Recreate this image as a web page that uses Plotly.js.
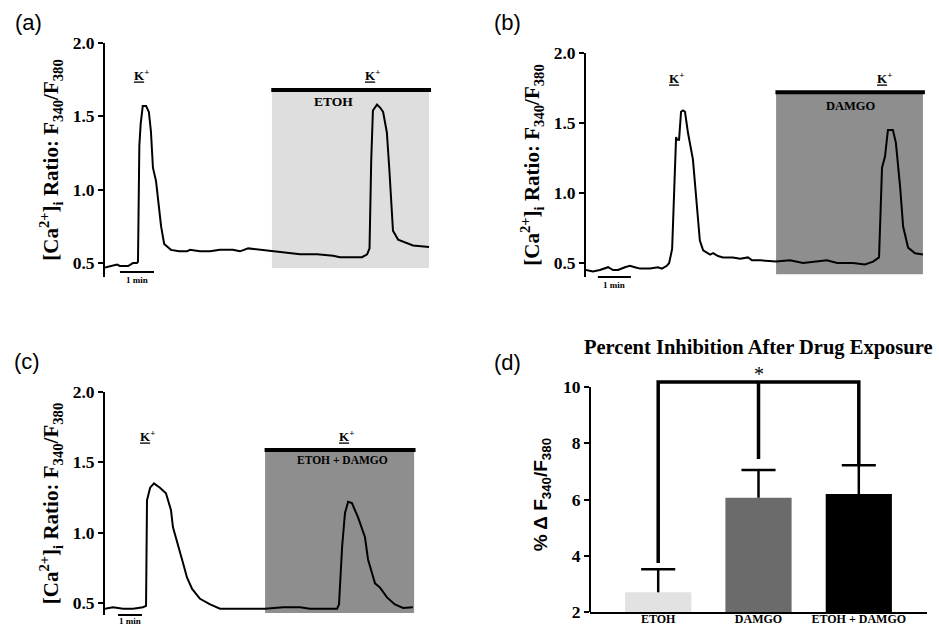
<!DOCTYPE html>
<html>
<head>
<meta charset="utf-8">
<script src="https://cdn.plot.ly/plotly-3.0.1.min.js"></script>
<style>html,body{margin:0;padding:0;background:#fff;}#chart{width:939px;height:625px;}</style>
</head>
<body>
<div id="chart"></div>
<script>
// ---------- Panel (a): ETOH ----------
const tA = [0.00,0.15,0.35,0.44,0.68,0.82,0.94,0.97,1.01,1.05,1.11,1.21,1.29,1.35,1.41,1.50,1.56,1.65,1.74,1.94,2.18,2.41,2.50,2.79,3.09,3.38,3.76,3.97,4.21,4.56,4.91,5.24,5.74,6.24,6.71,6.91,7.21,7.56,7.71,7.78,7.83,7.88,8.00,8.09,8.18,8.29,8.36,8.41,8.47,8.62,8.82,9.06,9.53];
const rA = [0.47,0.48,0.49,0.48,0.48,0.50,0.50,0.51,1.30,1.45,1.57,1.57,1.53,1.40,1.15,1.06,0.93,0.75,0.63,0.59,0.58,0.58,0.59,0.58,0.58,0.59,0.59,0.58,0.60,0.59,0.58,0.57,0.56,0.56,0.55,0.54,0.54,0.54,0.56,0.60,1.20,1.54,1.58,1.56,1.53,1.39,1.15,0.93,0.72,0.66,0.64,0.62,0.61];
// ---------- Panel (b): DAMGO ----------
const tB = [0.00,0.21,0.42,0.67,0.82,0.97,1.18,1.33,1.48,1.64,1.94,2.18,2.30,2.45,2.52,2.61,2.67,2.73,2.76,2.82,2.88,2.94,3.00,3.09,3.24,3.36,3.45,3.55,3.76,3.85,4.00,4.15,4.45,4.67,4.91,5.03,5.27,5.76,6.18,6.58,7.00,7.30,7.61,8.09,8.45,8.70,8.88,8.97,9.06,9.15,9.30,9.39,9.52,9.61,9.76,9.97,10.21];
const rB = [0.45,0.44,0.45,0.47,0.45,0.45,0.47,0.48,0.47,0.46,0.46,0.47,0.46,0.48,0.50,0.60,1.00,1.40,1.38,1.38,1.58,1.59,1.58,1.43,1.24,0.90,0.66,0.59,0.56,0.57,0.55,0.54,0.54,0.53,0.54,0.52,0.52,0.51,0.52,0.50,0.51,0.52,0.50,0.50,0.49,0.51,0.54,1.18,1.26,1.45,1.45,1.36,1.04,0.76,0.61,0.57,0.56];
// ---------- Panel (c): ETOH + DAMGO ----------
const tC = [0.00,0.33,0.75,1.17,1.58,1.71,1.75,1.88,2.04,2.29,2.54,2.63,2.75,2.83,3.00,3.21,3.42,3.63,3.96,4.38,4.79,5.33,6.04,6.67,7.42,8.13,8.54,9.25,9.67,9.75,9.88,10.00,10.13,10.29,10.54,10.83,10.96,11.13,11.25,11.46,11.75,12.08,12.42,12.83];
const rC = [0.46,0.47,0.46,0.46,0.47,0.48,1.23,1.32,1.35,1.32,1.28,1.23,1.16,1.04,0.93,0.81,0.68,0.60,0.53,0.49,0.46,0.46,0.465,0.46,0.47,0.47,0.46,0.46,0.46,0.49,0.90,1.14,1.22,1.21,1.11,0.97,0.81,0.71,0.64,0.61,0.54,0.49,0.465,0.47];
// drug application windows (min) and K+ pulse times (min)
const drugA = [4.91, 9.53], drugB = [5.76, 10.21], drugC = [6.67, 12.88];
const kA = [1.06, 7.88], kB = [2.73, 9.06], kC = [1.75, 10.08];
const drugNames = ['ETOH', 'DAMGO', 'ETOH + DAMGO'];
const ratioTicks = [0.5, 1.0, 1.5, 2.0];
const ratioTickText = ['0.5', '1.0', '1.5', '2.0'];
// ---------- Panel (d): percent inhibition ----------
const cats = ['ETOH', 'DAMGO', 'ETOH + DAMGO'];
const meanInhib = [2.70, 6.06, 6.20];
const semInhib = [0.82, 0.99, 1.02];
const barColors = ['#e2e2e2', '#6b6b6b', '#000000'];
const pctTicks = [2, 4, 6, 8, 10];
// significance bracket: category index and value of each vertex
const bracketX = [0, 0, 2, 2, null, 1, 1];
const bracketY = [3.74, 10.18, 10.18, 7.23, null, 10.18, 7.44];

const W = 939, H = 625;
const px = v => v / W, py = v => 1 - v / H;
const SERIF = 'Liberation Serif, Times New Roman, serif';
const SANS = 'Liberation Sans, Arial, sans-serif';
const yTitle = '[Ca<sup>2+</sup>]<sub>i</sub> Ratio: F<sub>340</sub>/F<sub>380</sub>';

function ratioAxis(dom, rng, standoff) {
  return {
    domain: dom, range: rng, showline: true, linewidth: 2, linecolor: '#000',
    ticks: 'outside', ticklen: 5, tickwidth: 2, tickcolor: '#000',
    tickvals: ratioTicks, ticktext: ratioTickText,
    tickfont: {family: SERIF, size: 17.5, color: '#000', weight: 'bold'},
    showgrid: false, zeroline: false, fixedrange: true,
    title: {text: yTitle, font: {family: SERIF, size: 21, color: '#000', weight: 'bold'}, standoff: standoff}
  };
}
function timeAxis(dom, rng, anchor) {
  return {domain: dom, range: rng, visible: false, anchor: anchor, fixedrange: true};
}

// one-sided (upper) error bars: stem + cap, built from the mean / SEM arrays
const capHalf = 0.17;
const errX = [], errY = [];
cats.forEach((c, i) => {
  const top = meanInhib[i] + semInhib[i];
  errX.push(i, i, null, i - capHalf, i + capHalf, null);
  errY.push(meanInhib[i], top, null, top, top, null);
});
const catIdx = cats.map((c, i) => i);

const lineStyle = {color: '#000', width: 2};
const data = [
  {x: tA, y: rA, xaxis: 'x', yaxis: 'y', type: 'scatter', mode: 'lines', line: lineStyle},
  {x: tB, y: rB, xaxis: 'x2', yaxis: 'y2', type: 'scatter', mode: 'lines', line: lineStyle},
  {x: tC, y: rC, xaxis: 'x3', yaxis: 'y3', type: 'scatter', mode: 'lines', line: lineStyle},
  {x: catIdx, y: meanInhib, xaxis: 'x4', yaxis: 'y4', type: 'bar', width: 0.66,
   marker: {color: barColors, line: {width: 0}}},
  {x: errX, y: errY, xaxis: 'x4', yaxis: 'y4', type: 'scatter', mode: 'lines', line: {color: '#000', width: 2.5}, connectgaps: false},
  {x: bracketX, y: bracketY, xaxis: 'x4', yaxis: 'y4', type: 'scatter', mode: 'lines', line: {color: '#000', width: 3.5}, connectgaps: false}
];

const shapes = [];
const annotations = [];
function tracePanel(xr, yr, drug, shadeY, barY, color, k, kY, name, nameY, nameSize, scale, scaleY, textShift) {
  shapes.push({type: 'rect', xref: xr, yref: yr, x0: drug[0], x1: drug[1], y0: shadeY, y1: barY, fillcolor: color, line: {width: 0}, layer: 'below'});
  shapes.push({type: 'line', xref: xr, yref: yr, x0: drug[0] - 0.02, x1: drug[1] + 0.06, y0: barY, y1: barY, line: {color: '#000', width: 4}});
  shapes.push({type: 'line', xref: xr, yref: yr + ' domain', x0: scale[0], x1: scale[1], y0: scaleY, y1: scaleY, line: {color: '#000', width: 2}});
  annotations.push({xref: xr, yref: yr + ' domain', x: (scale[0] + scale[1]) / 2, y: scaleY, xanchor: 'center', yanchor: 'top', yshift: textShift, showarrow: false,
    text: '1 min', font: {family: SERIF, size: 9, color: '#000', weight: 'bold'}});
  k.forEach(t => annotations.push({xref: xr, yref: yr, x: t, y: kY, xanchor: 'center', yanchor: 'middle', showarrow: false,
    text: '<u>K</u><sup>+</sup>', font: {family: SERIF, size: 13, color: '#000', weight: 'bold'}}));
  annotations.push({xref: xr, yref: yr, x: name[0], y: nameY, xanchor: 'center', yanchor: 'middle', showarrow: false, text: name[1],
    font: {family: SERIF, size: nameSize, color: '#000', weight: 'bold'}});
}
tracePanel('x', 'y', drugA, 0.466, 1.68, '#dedede', kA, 1.78, [6.71, drugNames[0]], 1.60, 13.5, [0.44, 1.44], 0.021, -1);
tracePanel('x2', 'y2', drugB, 0.42, 1.72, '#8e8e8e', kB, 1.82, [8.03, drugNames[1]], 1.62, 12.5, [0.36, 1.36], 0.0, -1);
tracePanel('x3', 'y3', drugC, 0.43, 1.588, '#8e8e8e', kC, 1.69, [9.875, drugNames[2]], 1.52, 11.5, [0.54, 1.54], 0.0, 1);

// custom y-axis line for panel (d) (stops at 10)
shapes.push({type: 'line', xref: 'x4 domain', yref: 'y4', x0: 0, x1: 0, y0: 2, y1: 10, line: {color: '#000', width: 2}});
annotations.push({xref: 'x4', yref: 'y4', x: 1, y: 10.18, xanchor: 'center', yanchor: 'bottom', yshift: -5, showarrow: false, text: '*',
  font: {family: SERIF, size: 20, color: '#000'}});
annotations.push({xref: 'paper', yref: 'paper', x: px(758), y: py(347), xanchor: 'center', yanchor: 'middle', showarrow: false,
  text: 'Percent Inhibition After Drug Exposure', font: {family: SERIF, size: 20.5, color: '#000', weight: 'bold'}});

// panel letters
[['(a)', 28, 23], ['(b)', 507, 23], ['(c)', 27, 361], ['(d)', 507, 362]].forEach(p => annotations.push({
  xref: 'paper', yref: 'paper', x: px(p[1]), y: py(p[2]), xanchor: 'center', yanchor: 'middle', showarrow: false, text: p[0],
  font: {family: SANS, size: 22, color: '#000'}}));

const layout = {
  width: W, height: H, margin: {l: 0, r: 0, t: 0, b: 0},
  font: {family: SERIF, color: '#000'},
  paper_bgcolor: '#fff', plot_bgcolor: 'rgba(0,0,0,0)', showlegend: false,
  xaxis: timeAxis([px(105), px(105 + 9.6 * 34)], [0, 9.6], 'y'),
  yaxis: Object.assign(ratioAxis([py(277), py(43)], [0.405, 2.0], 8), {anchor: 'x'}),
  xaxis2: timeAxis([px(586), px(586 + 10.3 * 33)], [0, 10.3], 'y2'),
  yaxis2: Object.assign(ratioAxis([py(277), py(53)], [0.4, 2.0], 8), {anchor: 'x2'}),
  xaxis3: timeAxis([px(105), px(105 + 13 * 24)], [0, 13], 'y3'),
  yaxis3: Object.assign(ratioAxis([py(615), py(392)], [0.415, 2.0], 8), {anchor: 'x3'}),
  xaxis4: {domain: [px(590), px(927)], range: [-0.68, 2.68], type: 'linear', anchor: 'y4',
    tickvals: catIdx, ticktext: cats,
    showline: true, linewidth: 2, linecolor: '#000', ticks: '', showgrid: false, zeroline: false, fixedrange: true,
    ticklabelstandoff: -5,
    tickfont: {family: SERIF, size: 12, color: '#000', weight: 'bold'}},
  yaxis4: {domain: [py(612), py(377.2)], range: [2, 10.35], anchor: 'x4', showline: false,
    ticks: 'outside', ticklen: 5, tickwidth: 2, tickcolor: '#000', tickvals: pctTicks,
    tickfont: {family: SERIF, size: 17.5, color: '#000', weight: 'bold'}, showgrid: false, zeroline: false, fixedrange: true,
    title: {text: '% \u0394 F<sub>340</sub>/F<sub>380</sub>', font: {family: SANS, size: 19, color: '#000', weight: 'bold'}, standoff: 10}},
  shapes: shapes, annotations: annotations
};

Plotly.newPlot('chart', data, layout, {staticPlot: true, displayModeBar: false});
</script>
</body>
</html>
